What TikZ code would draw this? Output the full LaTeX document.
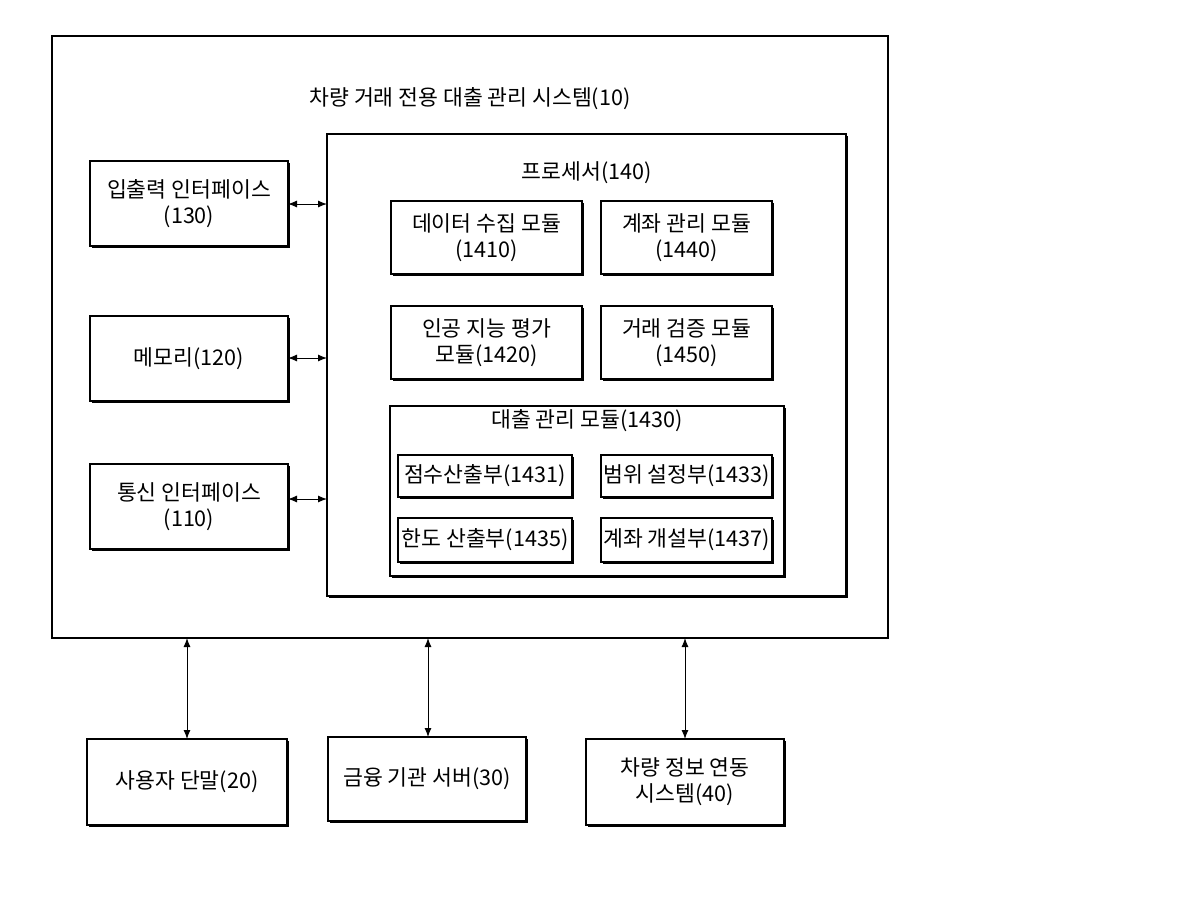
\documentclass[tikz,border=0pt]{standalone}
\usepackage{fontspec}
\setmainfont{Noto Sans CJK KR}
\usetikzlibrary{arrows.meta,shadows}
\begin{document}
\begin{tikzpicture}[x=0.5pt,y=-0.5pt,
 box/.style={draw,line width=0.9pt,fill=white,drop shadow={shadow xshift=1.2pt,shadow yshift=-1.2pt,fill=black,opacity=1}},
 lbl/.style={font=\fontsize{10.8}{13}\selectfont,align=center},
 arr/.style={{Latex[length=4.5pt,width=3.5pt]}-{Latex[length=4.5pt,width=3.5pt]},line width=0.5pt}]
\useasboundingbox (0,0) rectangle (1200,900);
\newcommand{\bx}[5]{\draw[box] (#1,#2) rectangle (#3,#4); \node[lbl] at ({(#1+#3)/2},{(#2+#4)/2}) {#5};}
\draw[line width=1pt] (52,36) rectangle (888,638);
\node[lbl] (t) at (470,99) {차량 거래 전용 대출 관리 시스템(10)};
\draw[box] (327,134) rectangle (846,596);
\node[lbl] at (587,173) {프로세서(140)};
\bx{90}{161}{288}{246}{입출력 인터페이스\\(130)}
\bx{90}{316}{288}{401}{메모리(120)}
\bx{90}{464}{288}{549}{통신 인터페이스\\(110)}
\draw[arr] (288,204) -- (327,204);
\draw[arr] (288,358) -- (327,358);
\draw[arr] (288,499) -- (327,499);
\bx{391}{201}{582}{274}{데이터 수집 모듈\\(1410)}
\bx{601}{201}{772}{274}{계좌 관리 모듈\\(1440)}
\bx{391}{306}{582}{379}{인공 지능 평가\\모듈(1420)}
\bx{601}{306}{772}{379}{거래 검증 모듈\\(1450)}
\draw[box] (390,406) rectangle (784,576);
\node[lbl] at (587,421) {대출 관리 모듈(1430)};
\bx{398}{455}{572}{497}{점수산출부(1431)}
\bx{601}{455}{772}{497}{범위 설정부(1433)}
\bx{398}{518}{572}{562}{한도 산출부(1435)}
\bx{601}{518}{772}{562}{계좌 개설부(1437)}
\bx{87}{739}{287}{825}{사용자 단말(20)}
\bx{328}{737}{526}{821}{금융 기관 서버(30)}
\bx{586}{739}{784}{825}{차량 정보 연동\\시스템(40)}
\draw[arr] (187,638) -- (187,739);
\draw[arr] (428,638) -- (428,737);
\draw[arr] (685,638) -- (685,739);
\end{tikzpicture}
\end{document}
